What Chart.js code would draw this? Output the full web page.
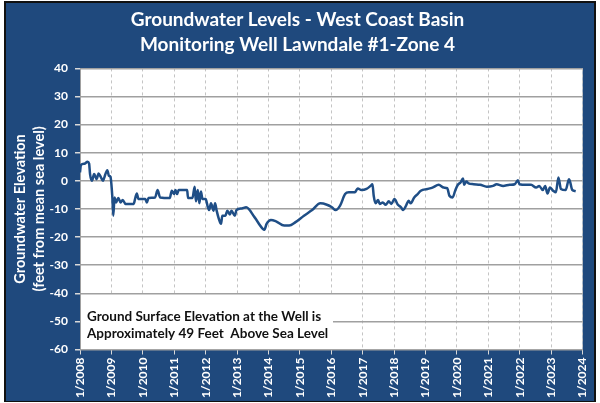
<!DOCTYPE html>
<html>
<head>
<meta charset="utf-8">
<title>Groundwater Levels - Lawndale #1-Zone 4</title>
<script src="https://cdn.jsdelivr.net/npm/chart.js@4.4.1/dist/chart.umd.min.js"></script>
<style>
  html, body { margin: 0; padding: 0; background: #fff; }
  #wrap { width: 600px; height: 403px; }
</style>
</head>
<body>
<div id="wrap"><canvas id="gwChart" width="600" height="403"></canvas></div>
<script>
// Lawndale #1-Zone 4 hydrograph
const years = [
  2008.00, 2008.03, 2008.14, 2008.24, 2008.29, 2008.32, 2008.38, 2008.45, 2008.53, 2008.59,
  2008.66, 2008.73, 2008.80, 2008.87, 2008.92, 2008.97, 2009.03, 2009.06, 2009.10, 2009.15,
  2009.22, 2009.29, 2009.36, 2009.45, 2009.71, 2009.76, 2009.81, 2009.86, 2010.08, 2010.13,
  2010.18, 2010.39, 2010.47, 2010.55, 2010.86, 2010.92, 2010.99, 2011.04, 2011.09, 2011.14,
  2011.41, 2011.44, 2011.58, 2011.65, 2011.69, 2011.75, 2011.80, 2011.85, 2011.90, 2012.00,
  2012.07, 2012.11, 2012.17, 2012.25, 2012.30, 2012.35, 2012.42, 2012.49, 2012.53, 2012.63,
  2012.69, 2012.77, 2012.82, 2012.93, 2012.98, 2013.15, 2013.29, 2013.56, 2013.82, 2013.87,
  2013.94, 2014.08, 2014.24, 2014.50, 2014.66, 2014.86, 2015.13, 2015.39, 2015.65, 2015.86,
  2016.02, 2016.14, 2016.28, 2016.44, 2016.56, 2016.75, 2016.84, 2016.96, 2017.12, 2017.25,
  2017.31, 2017.35, 2017.41, 2017.49, 2017.54, 2017.64, 2017.73, 2017.83, 2017.91, 2018.01,
  2018.12, 2018.22, 2018.29, 2018.38, 2018.46, 2018.53, 2018.64, 2018.75, 2018.85, 2019.06,
  2019.22, 2019.42, 2019.58, 2019.69, 2019.76, 2019.86, 2019.95, 2020.03, 2020.12, 2020.19,
  2020.23, 2020.30, 2020.37, 2020.53, 2020.74, 2020.95, 2021.15, 2021.26, 2021.47, 2021.68,
  2021.84, 2021.94, 2021.99, 2022.20, 2022.36, 2022.52, 2022.62, 2022.73, 2022.81, 2022.88,
  2022.96, 2023.06, 2023.15, 2023.23, 2023.31, 2023.46, 2023.54, 2023.57, 2023.67, 2023.78
];
const levels = [
  3.0, 5.7, 6.1, 6.8, 6.1, 2.4, 0.0, 2.4, 0.6, 2.6,
  1.4, 0.0, 2.1, 3.8, 1.8, 1.4, -5.9, -12.4, -5.9, -7.7,
  -6.1, -7.7, -6.8, -8.2, -8.2, -6.1, -4.5, -6.5, -6.5, -7.7,
  -6.1, -5.9, -3.3, -5.9, -6.1, -3.5, -4.7, -3.3, -4.7, -3.3,
  -3.3, -6.1, -6.1, -2.1, -7.3, -3.3, -8.0, -3.8, -6.5, -6.5,
  -9.4, -10.4, -8.0, -10.6, -8.0, -10.6, -13.5, -15.3, -12.4, -12.4,
  -10.6, -12.0, -10.6, -12.4, -10.4, -9.8, -9.4, -13.0, -17.1, -17.4,
  -15.3, -13.9, -14.4, -15.9, -15.9, -14.7, -12.4, -10.4, -8.0, -8.5,
  -9.4, -10.4, -8.8, -4.7, -4.1, -4.1, -2.7, -3.3, -2.9, -1.8,
  -1.2, -5.3, -8.0, -6.8, -8.2, -7.7, -8.5, -7.3, -8.2, -6.5,
  -8.5, -9.4, -10.4, -8.8, -7.1, -8.0, -5.9, -4.7, -3.5, -2.9,
  -2.4, -1.4, -2.4, -2.6, -5.3, -5.9, -3.3, -1.4, -0.5, 0.8,
  -1.4, -0.2, -0.9, -1.2, -1.4, -2.1, -1.8, -1.2, -1.8, -1.4,
  -1.2, 0.2, -1.2, -1.4, -1.4, -2.4, -1.8, -3.3, -1.8, -4.5,
  -2.4, -3.5, -4.1, 1.2, -2.9, -3.3, -0.2, 0.6, -3.2, -3.7
];
const yearTicks = [2008, 2009, 2010, 2011, 2012, 2013, 2014, 2015, 2016,
  2017, 2018, 2019, 2020, 2021, 2022, 2023, 2024];
const levelTicks = [40, 30, 20, 10, 0, -10, -20, -30, -40, -50, -60];
const titleLines = ['Groundwater Levels - West Coast Basin', 'Monitoring Well Lawndale #1-Zone 4'];
const axisTitleLines = ['Groundwater Elevation', '(feet from mean sea level)'];
const noteLines = ['Ground Surface Elevation at the Well is', 'Approximately 49 Feet  Above Sea Level'];

const FONT = 'Lato, "Open Sans", sans-serif';
const NAVY = '#1f497d';
const LINE = '#1f4e86';

// frame, blue panel and white plot area behind everything
const framePlugin = {
  id: 'frame',
  beforeDraw(chart) {
    const { ctx, chartArea: a, width, height } = chart;
    ctx.save();
    ctx.fillStyle = '#fff';
    ctx.fillRect(0, 0, width, height);
    ctx.fillStyle = '#111';
    ctx.fillRect(4, 1, width - 8, height - 2);
    ctx.fillStyle = NAVY;
    ctx.fillRect(6, 3, width - 12, height - 5);
    ctx.fillStyle = '#fff';
    ctx.fillRect(a.left, a.top, a.right - a.left, a.bottom - a.top);
    ctx.restore();
  },
  // note box sits on top of the grid, under the line
  beforeDatasetsDraw(chart) {
    const { ctx, chartArea: a } = chart;
    ctx.save();
    ctx.fillStyle = '#fff';
    ctx.fillRect(a.left + 1, a.bottom - 54, 252, 53);
    ctx.fillStyle = '#111';
    ctx.font = 'bold 13.5px ' + FONT;
    ctx.textBaseline = 'middle';
    ctx.fillText(noteLines[0], a.left + 7, a.bottom - 33);
    ctx.fillText(noteLines[1], a.left + 7, a.bottom - 16);
    ctx.restore();
  }
};

const ctx = document.getElementById('gwChart').getContext('2d');
new Chart(ctx, {
  type: 'line',
  data: {
    datasets: [{
      data: years.map((x, i) => ({ x, y: levels[i] })),
      borderColor: LINE,
      borderWidth: 2.5,
      pointRadius: 0,
      cubicInterpolationMode: 'monotone',
      fill: false
    }]
  },
  options: {
    responsive: false,
    animation: false,
    devicePixelRatio: 1,
    layout: { padding: { left: 6, right: 11, top: 2, bottom: 3 } },
    scales: {
      x: {
        type: 'linear',
        min: 2008,
        max: 2024,
        afterBuildTicks: (s) => { s.ticks = yearTicks.map(v => ({ value: v })); },
        afterFit: (s) => { s.height = 50.5; },
        ticks: {
          color: '#fff',
          font: { family: FONT, size: 12, weight: 'bold' },
          minRotation: 90,
          maxRotation: 90,
          autoSkip: false,
          padding: 3,
          callback: (v) => '1/' + v
        },
        grid: { color: '#c4c4c4', lineWidth: 1, tickLength: 5, tickColor: '#d9d9d9', tickBorderDash: [] },
        border: { color: '#a6a6a6', dash: [3, 3] }
      },
      y: {
        min: -60,
        max: 40,
        afterBuildTicks: (s) => { s.ticks = levelTicks.map(v => ({ value: v })); },
        afterFit: (s) => { s.width = 74; },
        ticks: {
          color: '#fff',
          font: { family: FONT, size: 12, weight: 'bold' },
          padding: 7
        },
        grid: { color: '#a0a0a0', lineWidth: 1.5, tickLength: 5, tickColor: '#d9d9d9' },
        border: { color: '#a0a0a0' },
        title: {
          display: true,
          text: axisTitleLines,
          color: '#fff',
          font: { family: FONT, size: 14.5, weight: 'bold', lineHeight: 1.28 },
          padding: { top: 5, bottom: 0 }
        }
      }
    },
    plugins: {
      legend: { display: false },
      tooltip: { enabled: false },
      title: {
        display: true,
        text: titleLines,
        color: '#fff',
        font: { family: FONT, size: 19, weight: 'bold', lineHeight: 1.3 },
        padding: { top: 6, bottom: 11 }
      }
    }
  },
  plugins: [framePlugin]
});
</script>
</body>
</html>
